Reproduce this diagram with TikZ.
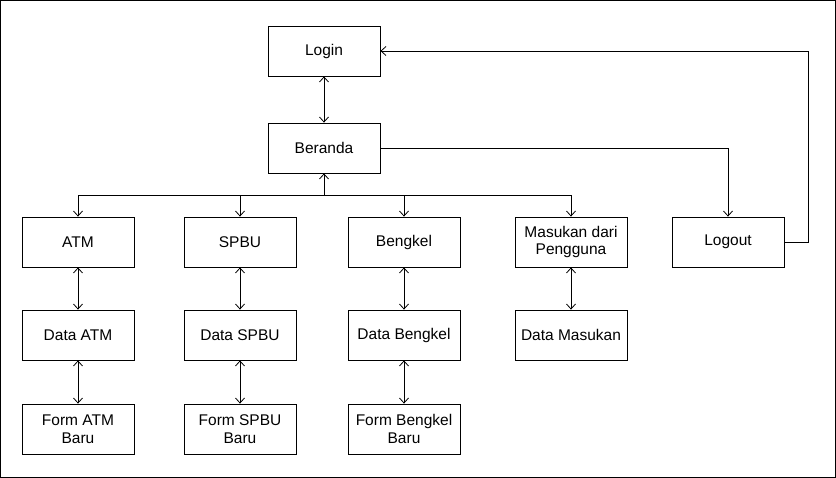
\documentclass[tikz,border=0pt]{standalone}
\usepackage{fontspec}
\setmainfont{Liberation Sans}
\usetikzlibrary{arrows.meta}

\begin{document}
\begin{tikzpicture}[x=1pt,y=-1pt,line width=0.8pt,
  font=\fontsize{15.5}{17.5}\selectfont,
  >={Straight Barb[length=5pt,width=9pt]},
  box/.style={draw,minimum width=112pt,minimum height=50pt,inner sep=2pt,align=center}]
\useasboundingbox (0,0) rectangle (836,478);
\draw (0.5,0.5) rectangle (835.5,477.5);
\node[box] (login) at (324,51) {Login};
\node[box] (beranda) at (324,148) {Beranda};
\node[box] (atm) at (78,242) {ATM};
\node[box] (spbu) at (240,242) {SPBU};
\node[box] (bengkel) at (404,242) {Bengkel};
\node[box] (masukan) at (571,242) {Masukan dari\\Pengguna};
\node[box] (logout) at (728,242) {Logout};
\node[box] (dataatm) at (78,335) {Data ATM};
\node[box] (dataspbu) at (240,335) {Data SPBU};
\node[box] (databengkel) at (404,335) {Data Bengkel};
\node[box] (datamasukan) at (571,335) {Data Masukan};
\node[box] (formatm) at (78,429) {Form ATM\\Baru};
\node[box] (formspbu) at (240,429) {Form SPBU\\Baru};
\node[box] (formbengkel) at (404,429) {Form Bengkel\\Baru};
\coordinate (bus) at (324,195);
\draw[<->] (login) -- (beranda);
\draw[<-] (beranda.south) -- (bus);
\foreach \n in {atm,spbu,bengkel,masukan}
  \draw[->] (bus) -| (\n.north);
\draw[->] (beranda.east) -| (logout.north);
\draw[->] (logout.east) -- ++(24,0) |- (login.east);
\foreach \a/\b in {atm/dataatm,spbu/dataspbu,bengkel/databengkel,masukan/datamasukan,
  dataatm/formatm,dataspbu/formspbu,databengkel/formbengkel}
  \draw[<->] (\a) -- (\b);
\end{tikzpicture}
\end{document}
